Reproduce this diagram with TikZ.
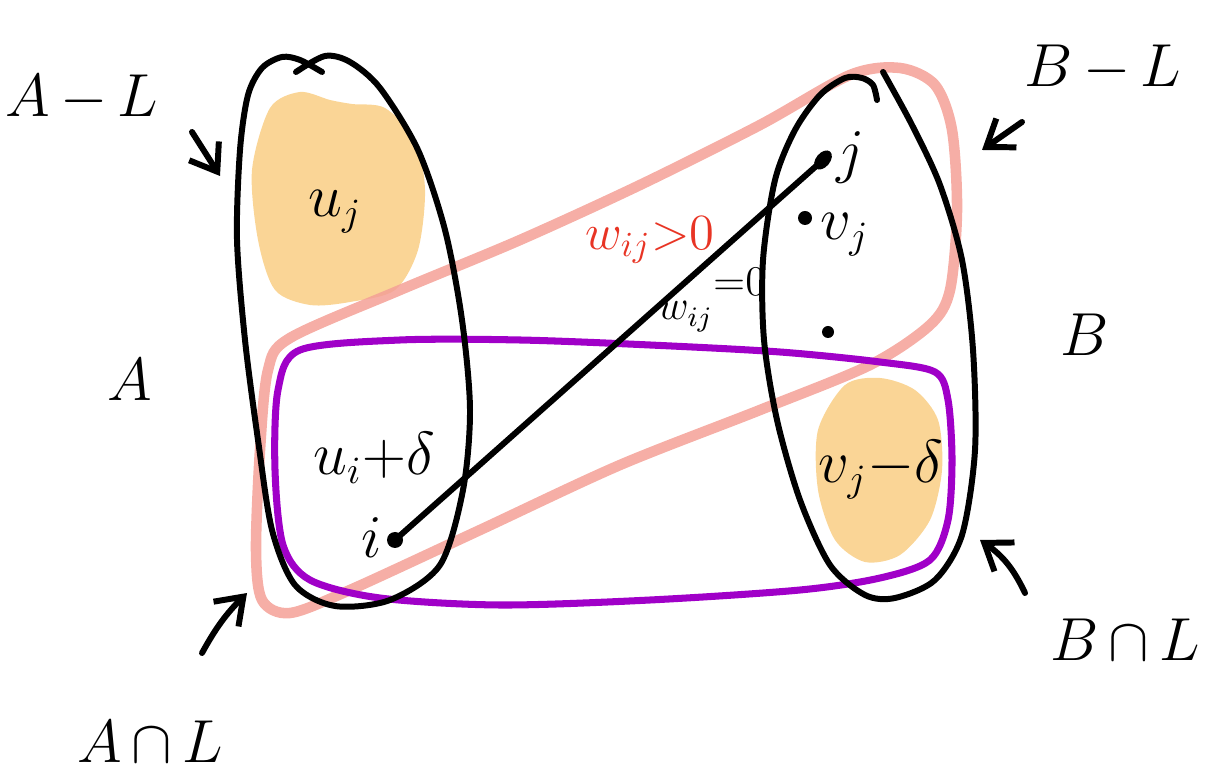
\documentclass[tikz,border=0pt]{standalone}
\usepackage{amsmath}
\usetikzlibrary{arrows.meta}

\definecolor{peach}{RGB}{250,213,150}
\definecolor{salmon}{RGB}{244,160,150}
\definecolor{grape}{RGB}{160,0,200}
\definecolor{redink}{RGB}{232,52,36}

\begin{document}
\begin{tikzpicture}[x=0.01cm, y=-0.01cm, line cap=round, line join=round,
  ink/.style={line width=1.7pt, black},
  blob/.style={fill=peach, draw=none},
  band/.style={draw=salmon, line width=3pt, opacity=0.85},
  ring/.style={draw=grape, line width=2pt},
  biglbl/.style={font=\fontsize{19}{21}\selectfont, inner sep=1pt},
  lbl/.style={font=\fontsize{16}{18}\selectfont, inner sep=1pt},
  pointer/.style={ink, -{Straight Barb[length=7pt,width=10pt]}}]
  % frame in pixel units, y downwards
  \useasboundingbox (0,0) rectangle (1207,783);
  % shaded parts  A-L and B∩L
  \fill[blob] plot[smooth cycle] coordinates {(270,108) (300,92) (330,100) (352,104)
    (385,108) (415,140) (425,190) (418,250) (395,290) (350,302) (310,305)
    (275,290) (258,240) (252,170)};
  \fill[blob] plot[smooth cycle] coordinates {(845,385) (880,378) (915,390)
    (938,420) (942,470) (930,520) (900,555) (865,562) (835,540) (818,490) (818,430)};
  % the band round the edge
  \draw[band] plot[smooth cycle] coordinates {(290,338) (400,290) (520,240)
    (640,185) (760,125) (850,75) (900,68) (935,85) (952,130) (957,210) (950,290)
    (930,325) (870,365) (760,410) (620,465) (480,530) (350,590) (290,613)
    (262,600) (256,550) (260,450) (268,370)};
  % L
  \draw[ring] plot[smooth cycle] coordinates {(300,350) (400,340) (520,340)
    (650,345) (780,352) (880,362) (935,372) (948,400) (952,460) (948,520)
    (930,560) (880,578) (800,590) (650,600) (500,605) (380,598) (310,580)
    (283,545) (275,470) (278,390)};
  % A
  \draw[ink] plot[smooth] coordinates {(322,72) (300,60) (282,57) (262,68) (248,95)
    (240,150) (237,240) (245,340) (258,440) (272,530) (295,585) (335,606)
    (390,600) (440,565) (463,490) (470,410) (462,320) (445,230) (418,150)
    (380,88) (350,62) (325,56) (296,72)};
  % B
  \draw[ink] plot[smooth] coordinates {(877,100) (873,85) (862,78) (845,78)
    (820,95) (795,130) (775,180) (763,260) (764,340) (777,420) (800,500)
    (830,565) (865,595) (895,598) (935,580) (962,535) (975,450) (973,350)
    (962,260) (940,185) (912,125) (883,72)};
  % edge i--j
  \coordinate (i) at (395,540);
  \coordinate (j) at (823,160);
  \draw[ink] (i) -- (j);
  \fill (i) circle[radius=8];
  \fill[rotate around={50:(j)}] (j) ellipse[x radius=11, y radius=7];
  \fill (805,218) circle[radius=7];
  \fill (828,332) circle[radius=6];
  % labels inside
  \node[lbl] (uj) at (335,212) {$u_j$};
  \node[lbl] (uid) at (374,458) {$u_i{+}\delta$};
  \node[lbl] (il) at (372,538) {$i$};
  \node[lbl] (jl) at (850,158) {$j$};
  \node[lbl] (vj) at (845,235) {$v_j$};
  \node[lbl] (vjd) at (881,470) {$v_j{-}\delta$};
  \node[font=\fontsize{14}{16}\selectfont, text=redink, inner sep=1pt] (wpos) at (650,240) {$w_{ij}{>}0$};
  \node[font=\fontsize{12}{14}\selectfont, inner sep=0pt] (wzero) at (712,300) {$w_{ij}\raisebox{7pt}{${=}0$}$};
  % set names
  \node[biglbl] (AmL) at (82,98) {$A\,{-}\,L$};
  \node[biglbl] (BmL) at (1103,68) {$B\,{-}\,L$};
  \node[biglbl] (Al) at (130,380) {$A$};
  \node[biglbl] (Bl) at (1085,335) {$B$};
  \node[biglbl] (AnL) at (150,742) {$A\,{\cap}\,L$};
  \node[biglbl] (BnL) at (1125,640) {$B\,{\cap}\,L$};
  % pointers
  \coordinate (p1s) at (192,132); \coordinate (p1e) at (220,176);
  \coordinate (p2s) at (1022,122); \coordinate (p2e) at (982,150);
  \coordinate (p3s) at (202,653); \coordinate (p3e) at (247,593);
  \coordinate (p4s) at (1025,593); \coordinate (p4e) at (980,540);
  \draw[pointer] (p1s) -- (p1e);
  \draw[pointer] (p2s) -- (p2e);
  \draw[pointer] (p3s) to[bend left=8] (p3e);
  \draw[pointer] (p4s) to[bend right=15] (p4e);
\end{tikzpicture}
\end{document}
